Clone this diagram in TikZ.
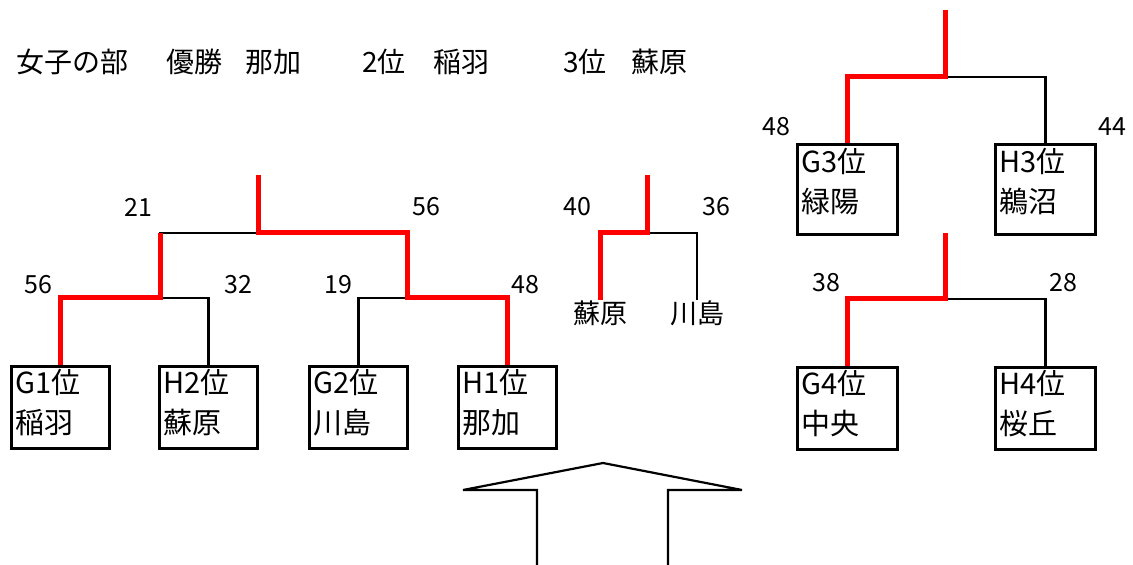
\documentclass[tikz,border=0pt]{standalone}
\usepackage{fontspec}
\setmainfont{Noto Sans CJK JP}
\begin{document}
\begin{tikzpicture}[x=0.5pt, y=-0.5pt,
    teambox/.style={draw, line width=1.5pt, anchor=north west, minimum width=49pt, minimum height=41pt,
        text width=45pt, inner xsep=2pt, inner ysep=0pt, text depth=26pt, align=left,
        font=\fontsize{14.5}{20}\selectfont},
    winline/.style={red, line width=2.5pt},
    loseline/.style={black, line width=1.1pt},
    score/.style={font=\fontsize{12.5}{14}\selectfont},
    heading/.style={anchor=west, inner sep=0pt, font=\fontsize{14}{16}\selectfont},
    teamname/.style={anchor=north, inner sep=0pt, font=\fontsize{13.5}{16}\selectfont}]
    \useasboundingbox (0,0) rectangle (1133,565);

    % Set up bracket junctions
    \coordinate (lefttop) at (258,175);
    \coordinate (leftmid) at (258,233);
    \coordinate (leftA) at (160,298);
    \coordinate (leftB) at (407,298);
    \coordinate (midtop) at (647,175);
    \coordinate (midmid) at (647,233);
    \coordinate (uppertop) at (945,10);
    \coordinate (uppermid) at (945,77);
    \coordinate (lowertop) at (945,233);
    \coordinate (lowermid) at (945,299);

    % Heading
    \foreach \x/\txt in {16/女子の部, 166/優勝, 245/那加, 362/2位, 433/稲羽, 563/3位, 631/蘇原} {
        \node[heading] at (\x,62) {\txt};
    }

    % Draw team boxes
    \node[teambox] (g1) at (10,365) {G1位\\稲羽};
    \node[teambox] (h2) at (158,365) {H2位\\蘇原};
    \node[teambox] (g2) at (308,365) {G2位\\川島};
    \node[teambox] (h1) at (457,365) {H1位\\那加};
    \node[teambox, minimum width=50pt, text width=46pt, minimum height=45pt, text depth=29.5pt] (g3) at (796,143) {G3位\\緑陽};
    \node[teambox, minimum width=50pt, text width=46pt, minimum height=45pt, text depth=29.5pt] (h3) at (994,143) {H3位\\鵜沼};
    \node[teambox, minimum width=50pt, text width=46pt] (g4) at (796,366) {G4位\\中央};
    \node[teambox, minimum width=50pt, text width=46pt] (h4) at (994,366) {H4位\\桜丘};
    \node[teamname] (sohara) at (600,300) {蘇原};
    \node[teamname] (kawashima) at (697,300) {川島};

    % Draw losing lines
    \draw[loseline] (leftA) -| (h2.north);
    \draw[loseline] (leftA) |- (leftmid);
    \draw[loseline] (leftB) -| (g2.north);
    \draw[loseline] (midmid) -| (kawashima.north);
    \draw[loseline] (uppermid) -| (h3.north);
    \draw[loseline] (lowermid) -| (h4.north);

    % Draw winning lines
    \draw[winline] (g1.north) |- (leftA) -- ++(0,-65);
    \draw[winline] (h1.north) |- (leftB) |- (leftmid) -- (lefttop);
    \draw[winline] (sohara.north) |- (midmid) -- (midtop);
    \draw[winline] (g3.north) |- (uppermid) -- (uppertop);
    \draw[winline] (g4.north) |- (lowermid) -- (lowertop);

    % Scores
    \node[score] (s1) at (38,285) {56};
    \node[score] (s2) at (238,285) {32};
    \node[score] (s3) at (338,285) {19};
    \node[score] (s4) at (525,285) {48};
    \node[score] (s5) at (138,207) {21};
    \node[score] (s6) at (426,207) {56};
    \node[score] (s7) at (577,207) {40};
    \node[score] (s8) at (716,207) {36};
    \node[score] (s9) at (776,127) {48};
    \node[score] (s10) at (1112,127) {44};
    \node[score] (s11) at (826,283) {38};
    \node[score] (s12) at (1063,283) {28};

    % Arrow
    \draw[line width=1.1pt] (537,565) -- (537,490) -- (463,490) -- (603,463) -- (742,490) -- (668,490) -- (668,565);
\end{tikzpicture}
\end{document}
